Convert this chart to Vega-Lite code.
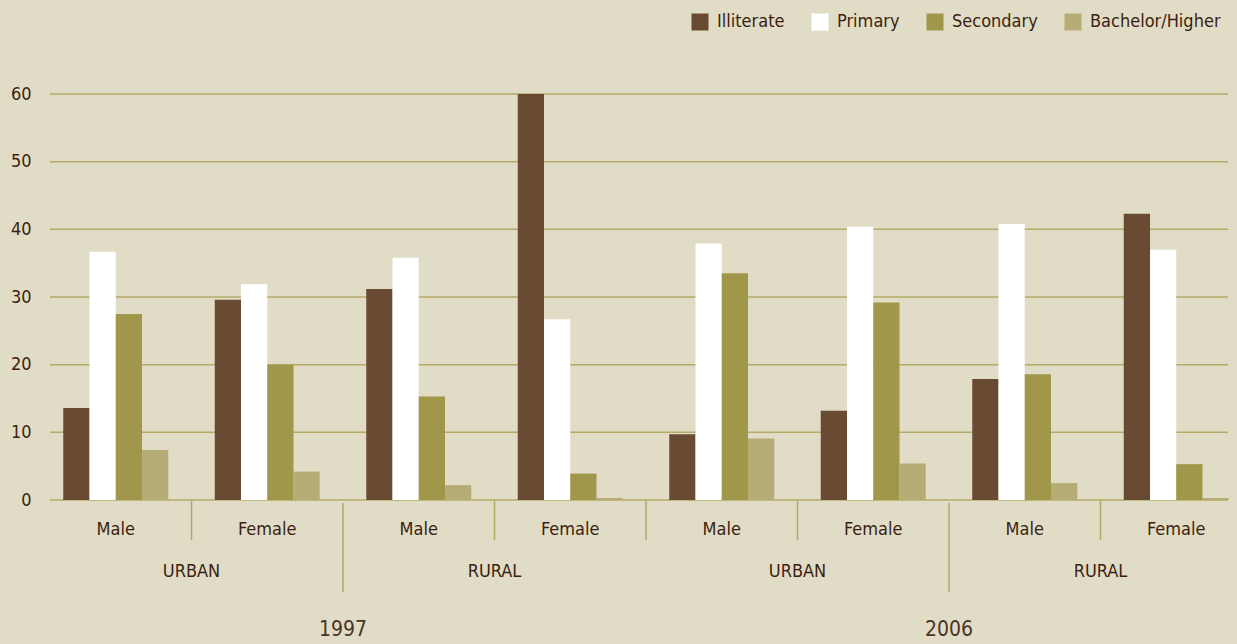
{
  "$schema": "https://vega.github.io/schema/vega-lite/v6.json",
  "autosize": {"type": "none"},
  "padding": {"left": 50, "top": 94, "right": 9, "bottom": 144},
  "width": 1178,
  "height": 406,
  "background": "#e1dcc5",
  "config": {
    "view": {"stroke": null},
    "font": "'Liberation Sans Narrow', 'DejaVu Sans Condensed', sans-serif",
    "text": {"font": "'Liberation Sans Narrow', 'DejaVu Sans Condensed', sans-serif", "color": "#3b1f12"}
  },
  "datasets": {
    "bars": [
      {"year": "1997", "area": "URBAN", "sex": "Male", "level": "Illiterate", "value": 13.6},
      {"year": "1997", "area": "URBAN", "sex": "Male", "level": "Primary", "value": 36.7},
      {"year": "1997", "area": "URBAN", "sex": "Male", "level": "Secondary", "value": 27.5},
      {"year": "1997", "area": "URBAN", "sex": "Male", "level": "Bachelor/Higher", "value": 7.4},
      {"year": "1997", "area": "URBAN", "sex": "Female", "level": "Illiterate", "value": 29.6},
      {"year": "1997", "area": "URBAN", "sex": "Female", "level": "Primary", "value": 31.9},
      {"year": "1997", "area": "URBAN", "sex": "Female", "level": "Secondary", "value": 20.0},
      {"year": "1997", "area": "URBAN", "sex": "Female", "level": "Bachelor/Higher", "value": 4.2},
      {"year": "1997", "area": "RURAL", "sex": "Male", "level": "Illiterate", "value": 31.2},
      {"year": "1997", "area": "RURAL", "sex": "Male", "level": "Primary", "value": 35.8},
      {"year": "1997", "area": "RURAL", "sex": "Male", "level": "Secondary", "value": 15.3},
      {"year": "1997", "area": "RURAL", "sex": "Male", "level": "Bachelor/Higher", "value": 2.2},
      {"year": "1997", "area": "RURAL", "sex": "Female", "level": "Illiterate", "value": 60.0},
      {"year": "1997", "area": "RURAL", "sex": "Female", "level": "Primary", "value": 26.7},
      {"year": "1997", "area": "RURAL", "sex": "Female", "level": "Secondary", "value": 3.9},
      {"year": "1997", "area": "RURAL", "sex": "Female", "level": "Bachelor/Higher", "value": 0.3},
      {"year": "2006", "area": "URBAN", "sex": "Male", "level": "Illiterate", "value": 9.7},
      {"year": "2006", "area": "URBAN", "sex": "Male", "level": "Primary", "value": 37.9},
      {"year": "2006", "area": "URBAN", "sex": "Male", "level": "Secondary", "value": 33.5},
      {"year": "2006", "area": "URBAN", "sex": "Male", "level": "Bachelor/Higher", "value": 9.1},
      {"year": "2006", "area": "URBAN", "sex": "Female", "level": "Illiterate", "value": 13.2},
      {"year": "2006", "area": "URBAN", "sex": "Female", "level": "Primary", "value": 40.4},
      {"year": "2006", "area": "URBAN", "sex": "Female", "level": "Secondary", "value": 29.2},
      {"year": "2006", "area": "URBAN", "sex": "Female", "level": "Bachelor/Higher", "value": 5.4},
      {"year": "2006", "area": "RURAL", "sex": "Male", "level": "Illiterate", "value": 17.9},
      {"year": "2006", "area": "RURAL", "sex": "Male", "level": "Primary", "value": 40.8},
      {"year": "2006", "area": "RURAL", "sex": "Male", "level": "Secondary", "value": 18.6},
      {"year": "2006", "area": "RURAL", "sex": "Male", "level": "Bachelor/Higher", "value": 2.5},
      {"year": "2006", "area": "RURAL", "sex": "Female", "level": "Illiterate", "value": 42.3},
      {"year": "2006", "area": "RURAL", "sex": "Female", "level": "Primary", "value": 37.0},
      {"year": "2006", "area": "RURAL", "sex": "Female", "level": "Secondary", "value": 5.3},
      {"year": "2006", "area": "RURAL", "sex": "Female", "level": "Bachelor/Higher", "value": 0.3}
    ],
    "grid": [{"tick": 0}, {"tick": 10}, {"tick": 20}, {"tick": 30}, {"tick": 40}, {"tick": 50}, {"tick": 60}],
    "sepShort": [
      {"grp": "1997|URBAN|Female"},
      {"grp": "1997|RURAL|Female"},
      {"grp": "2006|URBAN|Male"},
      {"grp": "2006|URBAN|Female"},
      {"grp": "2006|RURAL|Female"}
    ],
    "sepLong": [
      {"grp": "1997|RURAL|Male"},
      {"grp": "2006|RURAL|Male"}
    ],
    "areas": [
      {"grp": "1997|URBAN|Male", "label": "URBAN"},
      {"grp": "1997|RURAL|Male", "label": "RURAL"},
      {"grp": "2006|URBAN|Male", "label": "URBAN"},
      {"grp": "2006|RURAL|Male", "label": "RURAL"}
    ],
    "years": [
      {"grp": "1997|URBAN|Female", "label": "1997"},
      {"grp": "2006|URBAN|Female", "label": "2006"}
    ]
  },
  "layer": [
    {
      "data": {"name": "grid"},
      "mark": {"type": "rule", "color": "#b5aa68", "strokeWidth": 1.5},
      "encoding": {
        "y": {"field": "tick", "type": "quantitative"}
      }
    },
    {
      "data": {"name": "bars"},
      "transform": [{"calculate": "datum.year + '|' + datum.area + '|' + datum.sex", "as": "grp"}],
      "mark": {"type": "bar"},
      "encoding": {
        "x": {
          "field": "grp", "type": "nominal",
          "scale": {
            "domain": ["1997|URBAN|Male", "1997|URBAN|Female", "1997|RURAL|Male", "1997|RURAL|Female", "2006|URBAN|Male", "2006|URBAN|Female", "2006|RURAL|Male", "2006|RURAL|Female"],
            "range": [-10, 1202],
            "paddingInner": 0, "paddingOuter": 0
          },
          "axis": {
            "title": null,
            "labelExpr": "split(datum.label, '|')[2]",
            "labelAngle": 0,
            "labelFontSize": 18,
            "labelColor": "#3b1f12",
            "labelFont": "'Liberation Sans Narrow', 'DejaVu Sans Condensed', sans-serif",
            "labelPadding": 20,
            "ticks": false, "tickSize": 0,
            "domain": false, "grid": false
          }
        },
        "xOffset": {
          "field": "level", "type": "nominal",
          "scale": {"domain": ["Illiterate", "Primary", "Secondary", "Bachelor/Higher"], "paddingInner": 0, "paddingOuter": 0.886}
        },
        "y": {
          "field": "value", "type": "quantitative",
          "scale": {"domain": [0, 60], "nice": false},
          "axis": {
            "title": null,
            "values": [0, 10, 20, 30, 40, 50, 60],
            "labelFontSize": 18,
            "labelColor": "#3b1f12",
            "labelFont": "'Liberation Sans Narrow', 'DejaVu Sans Condensed', sans-serif",
            "labelPadding": 19,
            "ticks": false, "tickSize": 0,
            "domain": false,
            "grid": false
          }
        },
        "color": {
          "field": "level", "type": "nominal",
          "scale": {"domain": ["Illiterate", "Primary", "Secondary", "Bachelor/Higher"], "range": ["#694b33", "#ffffff", "#a1974a", "#b6ad76"]},
          "legend": {
            "title": null,
            "orient": "none",
            "direction": "horizontal",
            "legendX": 641,
            "legendY": -81,
            "symbolType": "square",
            "symbolSize": 289,
            "symbolStrokeWidth": 0,
            "symbolOpacity": 1,
            "labelOffset": 8,
            "columnPadding": 26,
            "labelFontSize": 18,
            "labelColor": "#3b1f12",
            "labelFont": "'Liberation Sans Narrow', 'DejaVu Sans Condensed', sans-serif"
          }
        }
      }
    },
    {
      "data": {"name": "sepShort"},
      "mark": {"type": "rule", "color": "#b3aa6a", "strokeWidth": 1.5, "y2Offset": 40},
      "encoding": {
        "x": {"field": "grp", "type": "nominal", "bandPosition": 0},
        "y": {"datum": 0},
        "y2": {"datum": 0}
      }
    },
    {
      "data": {"name": "sepLong"},
      "mark": {"type": "rule", "color": "#b3aa6a", "strokeWidth": 1.5, "yOffset": 3, "y2Offset": 92},
      "encoding": {
        "x": {"field": "grp", "type": "nominal", "bandPosition": 0},
        "y": {"datum": 0},
        "y2": {"datum": 0}
      }
    },
    {
      "data": {"name": "areas"},
      "mark": {"type": "text", "fontSize": 18, "baseline": "alphabetic", "align": "center", "dy": 77},
      "encoding": {
        "x": {"field": "grp", "type": "nominal", "bandPosition": 1},
        "y": {"datum": 0},
        "text": {"field": "label"}
      }
    },
    {
      "data": {"name": "years"},
      "mark": {"type": "text", "fontSize": 21, "baseline": "alphabetic", "align": "center", "dy": 136, "color": "#4a3428"},
      "encoding": {
        "x": {"field": "grp", "type": "nominal", "bandPosition": 1},
        "y": {"datum": 0},
        "text": {"field": "label"}
      }
    }
  ]
}
